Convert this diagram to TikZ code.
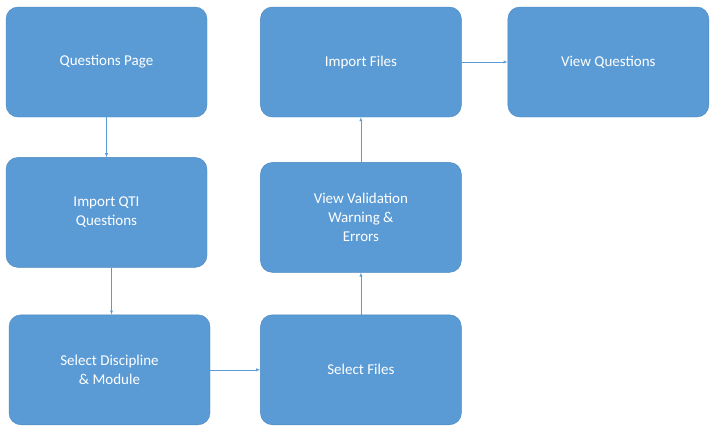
\documentclass[tikz,border=0pt]{standalone}
\usepackage{fontspec}
\setmainfont{Carlito}
\usetikzlibrary{positioning}
\definecolor{boxblue}{HTML}{5B9BD5}
\definecolor{boxline}{HTML}{4A86C0}
\begin{document}
\begin{tikzpicture}[x=1pt,y=1pt]
 	\tikzstyle{stage}=[rectangle, rounded corners=12pt, minimum width=201pt, minimum height=110pt, fill=boxblue, draw=boxline, text=white, align=center, font=\fontsize{15}{19}\selectfont]
 	\tikzstyle{connect}=[-latex, boxblue, thin]
 	\useasboundingbox (0,0) rectangle (713,-432);
 	\node[stage] (page) at (106.5,-62) {Questions Page};
 	\node[stage] (qti) [below=40pt of page] {Import QTI\\Questions};
 	\node[stage] (disc) [below=47pt of qti, xshift=3pt] {Select Discipline\\\& Module};
 	\node[stage] (select) [right=50pt of disc] {Select Files};
 	\node[stage] (valid) [above=42pt of select] {View Validation\\Warning \&\\Errors};
 	\node[stage] (import) [above=45pt of valid] {Import Files};
 	\node[stage] (view) [right=46pt of import] {View Questions};
 	\path (page) edge [connect] (qti)
 	(disc) edge [connect] (select)
 	(select) edge [connect] (valid)
 	(valid) edge [connect] (import)
 	(import) edge [connect] (view);
 	\draw[connect] ([xshift=5pt]qti.south) -- ([xshift=2pt]disc.north);
\end{tikzpicture}
\end{document}
